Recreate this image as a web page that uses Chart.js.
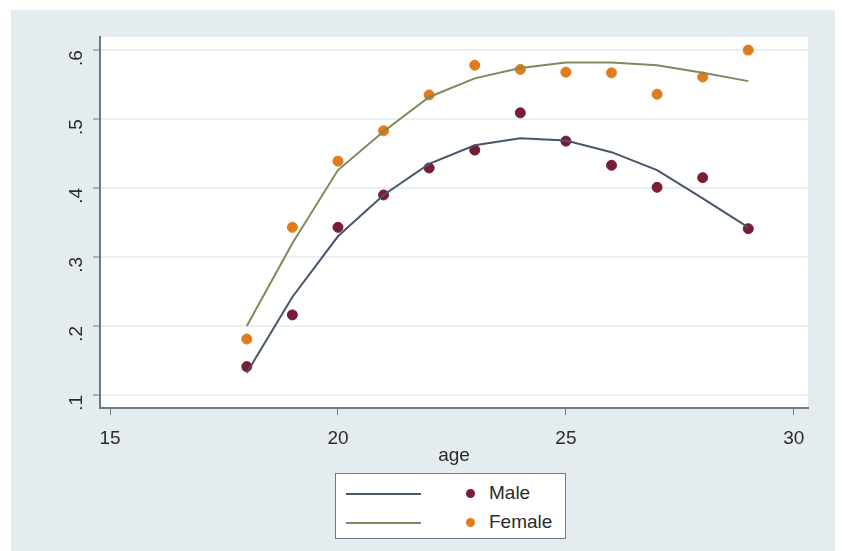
<!DOCTYPE html>
<html>
<head>
<meta charset="utf-8">
<script src="https://cdn.jsdelivr.net/npm/chart.js@4"></script>
<style>
    body { margin: 0; background: #ffffff; font-family: "Liberation Sans", Arial, sans-serif; }
    #wrap { position: relative; width: 842px; height: 551px; }
    #legendBox {
        position: absolute; left: 335px; top: 473px; width: 231px; height: 66px;
        background: #ffffff; border: 1px solid #6f7a85; box-sizing: border-box;
    }
    .row { position: absolute; left: 0; height: 20px; width: 100%; }
    .ln { position: absolute; left: 10px; width: 75px; height: 2px; }
    .dot { position: absolute; left: 130px; width: 9px; height: 9px; border-radius: 50%; }
    .lbl { position: absolute; left: 153px; font-size: 19px; color: #2b2b2b; line-height: 20px; }
</style>
</head>
<body>
<div id="wrap">
    <canvas id="ageChart" width="842" height="551"></canvas>
    <div id="legendBox">
        <div class="row" style="top:9px">
            <div class="ln" style="top:10px;background:#46566e"></div>
            <div class="dot" style="top:6px;background:#7b1c36"></div>
            <div class="lbl">Male</div>
        </div>
        <div class="row" style="top:38px">
            <div class="ln" style="top:10px;background:#7f8a5c"></div>
            <div class="dot" style="top:6px;background:#e07b1e"></div>
            <div class="lbl">Female</div>
        </div>
    </div>
</div>
<script>
// Observed shares by age
const ages = [18, 19, 20, 21, 22, 23, 24, 25, 26, 27, 28, 29];
const maleObs = [0.141, 0.216, 0.343, 0.390, 0.429, 0.455, 0.509, 0.468, 0.433, 0.401, 0.415, 0.341];
const femaleObs = [0.181, 0.343, 0.439, 0.483, 0.535, 0.578, 0.572, 0.568, 0.567, 0.536, 0.561, 0.600];

// Fitted curves
const maleFit = [0.132, 0.242, 0.330, 0.390, 0.435, 0.462, 0.472, 0.469, 0.452, 0.426, 0.385, 0.343];
const femaleFit = [0.200, 0.320, 0.426, 0.482, 0.532, 0.559, 0.574, 0.582, 0.582, 0.578, 0.567, 0.555];

// Axis ticks
const xTicks = [15, 20, 25, 30];
const yTicks = [0.1, 0.2, 0.3, 0.4, 0.5, 0.6];

function toPoints(values) {
    return ages.map((a, i) => ({ x: a, y: values[i] }));
}

// Background boxes: outer grey panel and white plot region
const panelPlugin = {
    id: 'panel',
    beforeDraw(chart) {
        const ctx = chart.ctx;
        const area = chart.chartArea;
        ctx.save();
        ctx.fillStyle = '#e5ecf0';
        ctx.fillRect(11, 10, 824, 541);
        ctx.fillStyle = '#ffffff';
        ctx.fillRect(area.left, area.top, area.right - area.left, area.bottom - area.top);
        ctx.restore();
    }
};

const labelFont = { family: 'Liberation Sans', size: 19 };

const ctx = document.getElementById('ageChart').getContext('2d');
new Chart(ctx, {
    type: 'scatter',
    data: {
        datasets: [
            {
                label: 'Male fit',
                data: toPoints(maleFit),
                showLine: true,
                borderColor: '#46566e',
                borderWidth: 2,
                pointRadius: 0,
                tension: 0
            },
            {
                label: 'Female fit',
                data: toPoints(femaleFit),
                showLine: true,
                borderColor: '#7f8a5c',
                borderWidth: 2,
                pointRadius: 0,
                tension: 0
            },
            {
                label: 'Male',
                data: toPoints(maleObs),
                backgroundColor: '#7b1c36',
                borderColor: '#7b1c36',
                pointRadius: 5
            },
            {
                label: 'Female',
                data: toPoints(femaleObs),
                backgroundColor: '#e07b1e',
                borderColor: '#e07b1e',
                pointRadius: 5
            }
        ]
    },
    options: {
        responsive: false,
        animation: false,
        layout: {
            padding: { left: 0, right: 34, top: 37, bottom: 84 }
        },
        scales: {
            x: {
                type: 'linear',
                min: 14.78,
                max: 30.31,
                afterBuildTicks: scale => { scale.ticks = xTicks.map(v => ({ value: v })); },
                afterFit: scale => { scale.height = 59; },
                border: { display: true, color: '#6b7a86', width: 2 },
                grid: {
                    drawOnChartArea: false,
                    drawTicks: true,
                    tickLength: 7,
                    tickColor: '#6b7a86'
                },
                ticks: {
                    color: '#2b2b2b',
                    font: labelFont,
                    padding: 12,
                    maxRotation: 0
                },
                title: {
                    display: true,
                    text: 'age',
                    color: '#2b2b2b',
                    font: labelFont,
                    padding: 0
                }
            },
            y: {
                type: 'linear',
                min: 0.081,
                max: 0.619,
                afterBuildTicks: scale => { scale.ticks = yTicks.map(v => ({ value: v })); },
                afterFit: scale => { scale.width = 100; },
                border: { display: true, color: '#6b7a86', width: 2 },
                grid: {
                    color: '#eaeff2',
                    lineWidth: 2,
                    tickLength: 7,
                    tickColor: '#6b7a86',
                    tickWidth: 1
                },
                ticks: {
                    color: '#2b2b2b',
                    font: labelFont,
                    padding: 16,
                    minRotation: 90,
                    maxRotation: 90,
                    callback: v => v.toFixed(1).replace(/^0/, '')
                }
            }
        },
        plugins: {
            legend: { display: false },
            tooltip: { enabled: false }
        }
    },
    plugins: [panelPlugin]
});
</script>
</body>
</html>
